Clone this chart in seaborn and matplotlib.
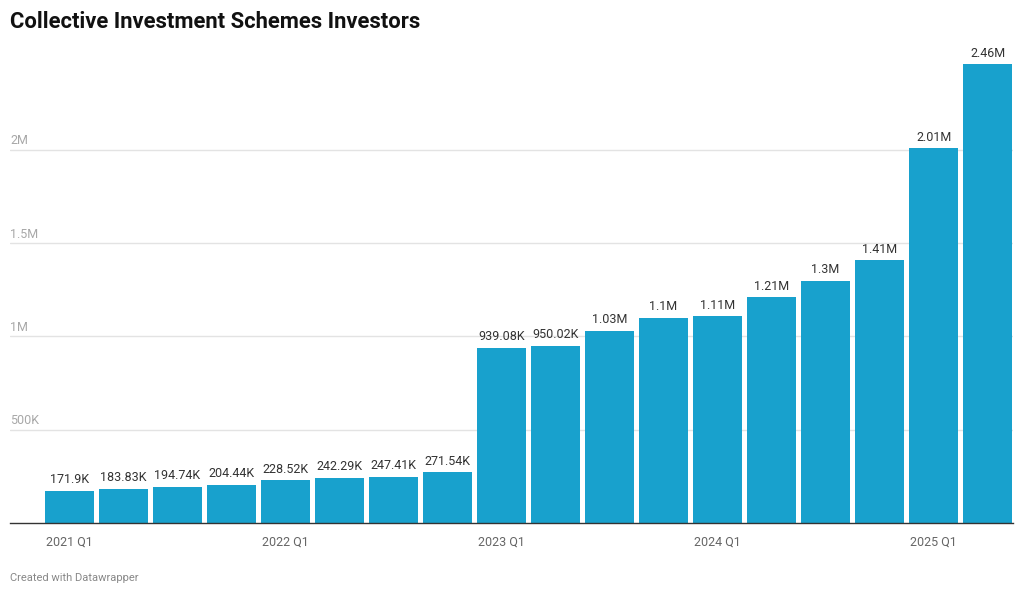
import numpy as np
import pandas as pd
import matplotlib
matplotlib.use('Agg')
import matplotlib.pyplot as plt
import seaborn as sns

quarters = ['2021 Q1', '2021 Q2', '2021 Q3', '2021 Q4',
            '2022 Q1', '2022 Q2', '2022 Q3', '2022 Q4',
            '2023 Q1', '2023 Q2', '2023 Q3', '2023 Q4',
            '2024 Q1', '2024 Q2', '2024 Q3', '2024 Q4',
            '2025 Q1', '2025 Q2']
investors = [171900, 183830, 194740, 204440,
             228520, 242290, 247410, 271540,
             939080, 950020, 1030000, 1100000,
             1110000, 1210000, 1300000, 1410000,
             2010000, 2460000]
value_labels = ['171.9K', '183.83K', '194.74K', '204.44K',
                '228.52K', '242.29K', '247.41K', '271.54K',
                '939.08K', '950.02K', '1.03M', '1.1M',
                '1.11M', '1.21M', '1.3M', '1.41M',
                '2.01M', '2.46M']
y_ticks = [500000, 1000000, 1500000, 2000000]
y_tick_labels = ['500K', '1M', '1.5M', '2M']
x_tick_labels = ['2021 Q1', '2022 Q1', '2023 Q1', '2024 Q1', '2025 Q1']

df = pd.DataFrame({'quarter': quarters, 'investors': investors})

sns.set_style('white')
plt.rcParams['font.family'] = ['Roboto', 'DejaVu Sans']

fig = plt.figure(figsize=(10.24, 5.95), dpi=100)
ax = fig.add_axes([10 / 1024, 72 / 595, 1003 / 1024, 478 / 595])

sns.barplot(data=df, x='quarter', y='investors', order=quarters,
            color='#18a1cd', saturation=1, width=0.9, linewidth=0, ax=ax)

ax.set_xlim(-1.1, 17.47)
ax.set_ylim(0, 2563000)

# gridlines with labels sitting on top of them
for v, lab in zip(y_ticks, y_tick_labels):
    ax.axhline(v, color='#e3e3e3', linewidth=1, zorder=0)
    ax.text(-1.1, v + 14000, lab, ha='left', va='bottom',
            fontsize=9, color='#a8a8a8')
ax.set_yticks([])

for i, (v, lab) in enumerate(zip(investors, value_labels)):
    ax.text(i, v + 24000, lab, ha='center', va='bottom',
            fontsize=9, color='#333333')

ax.set_xticks([quarters.index(q) for q in x_tick_labels])
ax.set_xticklabels(x_tick_labels, fontsize=9, color='#666666')
ax.tick_params(axis='x', length=5, width=1, color='#333333', pad=4)
ax.set_xlabel('')
ax.set_ylabel('')

for s in ['top', 'right', 'left']:
    ax.spines[s].set_visible(False)
ax.spines['bottom'].set_color('#333333')
ax.spines['bottom'].set_linewidth(1)

fig.text(10 / 1024, 1 - 22 / 595, 'Collective Investment Schemes Investors',
         fontsize=15.8, fontweight='bold', color='#111111', va='center', ha='left')
fig.text(10 / 1024, 1 - 578 / 595, 'Created with Datawrapper',
         fontsize=8, color='#888888', va='center', ha='left')

fig.savefig('out.png', dpi=100)
